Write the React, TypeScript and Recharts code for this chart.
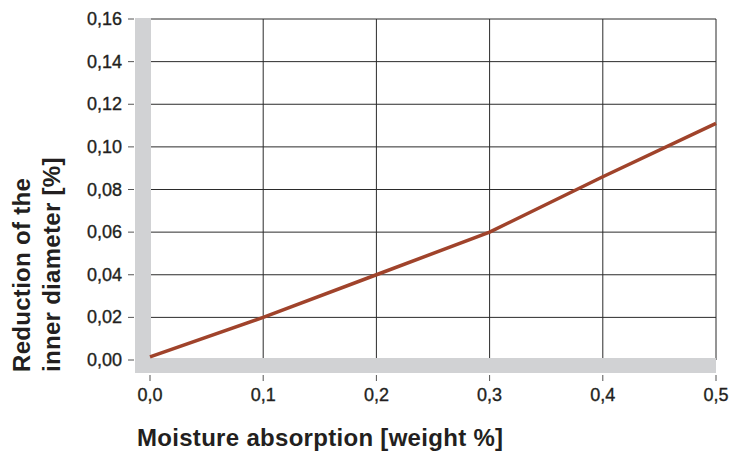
import React from "react";
import { LineChart, Line, XAxis, YAxis, CartesianGrid, usePlotArea } from "recharts";

// moisture absorption (weight %) vs reduction of the inner diameter (%)
const moisture = [0, 0.1, 0.2, 0.3, 0.4, 0.5];
const reduction = [0.0015, 0.02, 0.04, 0.06, 0.086, 0.111];

const xTicks = [0, 0.1, 0.2, 0.3, 0.4, 0.5];
const yTicks = [0, 0.02, 0.04, 0.06, 0.08, 0.1, 0.12, 0.14, 0.16];

const xTitle = "Moisture absorption [weight %]";
const yTitle = ["Reduction of the", "inner diameter [%]"];

const data = moisture.map((m, i) => ({ m, r: reduction[i] }));

const FONT = "'Liberation Sans', Arial, sans-serif";
const INK = "#231f20";
const BAND = "#d1d2d4";

const comma = (v: number, d: number) => v.toFixed(d).replace(".", ",");

const YTick = (props: any) => {
  const { x, y, payload } = props;
  return (
    <g>
      <line x1={x + 6} x2={x + 12} y1={y} y2={y} stroke="#555" strokeWidth={1} />
      <text x={x} y={y} dy={6} textAnchor="end" fontFamily={FONT} fontSize={18}
        fill={INK} stroke={INK} strokeWidth={0.35}>
        {comma(payload.value, 2)}
      </text>
    </g>
  );
};

const XTick = (props: any) => {
  const { x, y, payload } = props;
  return (
    <g>
      <line x1={x} x2={x} y1={y + 15} y2={y + 21} stroke="#555" strokeWidth={1} />
      <text x={x} y={y} dy={41} textAnchor="middle" fontFamily={FONT} fontSize={18}
        fill={INK} stroke={INK} strokeWidth={0.35}>
        {comma(payload.value, 1)}
      </text>
    </g>
  );
};

// grey L-shaped band along the two axes
const AxisBand = () => {
  const area = usePlotArea();
  if (!area) return null;
  const { x, y, width, height } = area;
  return (
    <g>
      <rect x={x - 15} y={y - 1} width={16} height={height + 14} fill={BAND} />
      <rect x={x - 15} y={y + height - 2} width={width + 15} height={15} fill={BAND} />
    </g>
  );
};

const App = () => {
  return (
    <div style={{ position: "absolute", left: 0, top: 0 }}>
      <LineChart
        width={733}
        height={452}
        data={data}
        margin={{ top: 19, right: 17, left: 0, bottom: 0 }}
      >
        <CartesianGrid stroke="#2b2b2b" strokeWidth={1} />
        <XAxis
          type="number"
          dataKey="m"
          domain={[0, 0.5]}
          ticks={xTicks}
          height={92}
          axisLine={false}
          tickLine={false}
          tickSize={0}
          tickMargin={0}
          tick={<XTick />}
          label={{
            content: (p: any) => (
              <text
                x={p.viewBox.x - 13}
                y={p.viewBox.y + 86}
                fontFamily={FONT}
                fontSize={24}
                fontWeight="bold"
                letterSpacing={0.3}
                fill={INK}
              >
                {xTitle}
              </text>
            ),
          }}
        />
        <YAxis
          type="number"
          domain={[0, 0.16]}
          ticks={yTicks}
          width={150}
          axisLine={false}
          tickLine={false}
          tickSize={0}
          tickMargin={28}
          tick={<YTick />}
          label={{
            content: () => (
              <g>
                {yTitle.map((t, i) => (
                  <text
                    key={t}
                    transform={`translate(${30 + i * 30}, ${372}) rotate(-90)`}
                    fontFamily={FONT}
                    fontSize={24}
                    fontWeight="bold"
                    letterSpacing={0.3}
                    fill={INK}
                  >
                    {t}
                  </text>
                ))}
              </g>
            ),
          }}
        />
        <AxisBand />
        <Line
          type="linear"
          dataKey="r"
          stroke="#a0432b"
          strokeWidth={3.5}
          dot={false}
          isAnimationActive={false}
        />
      </LineChart>
    </div>
  );
};

export default App;
